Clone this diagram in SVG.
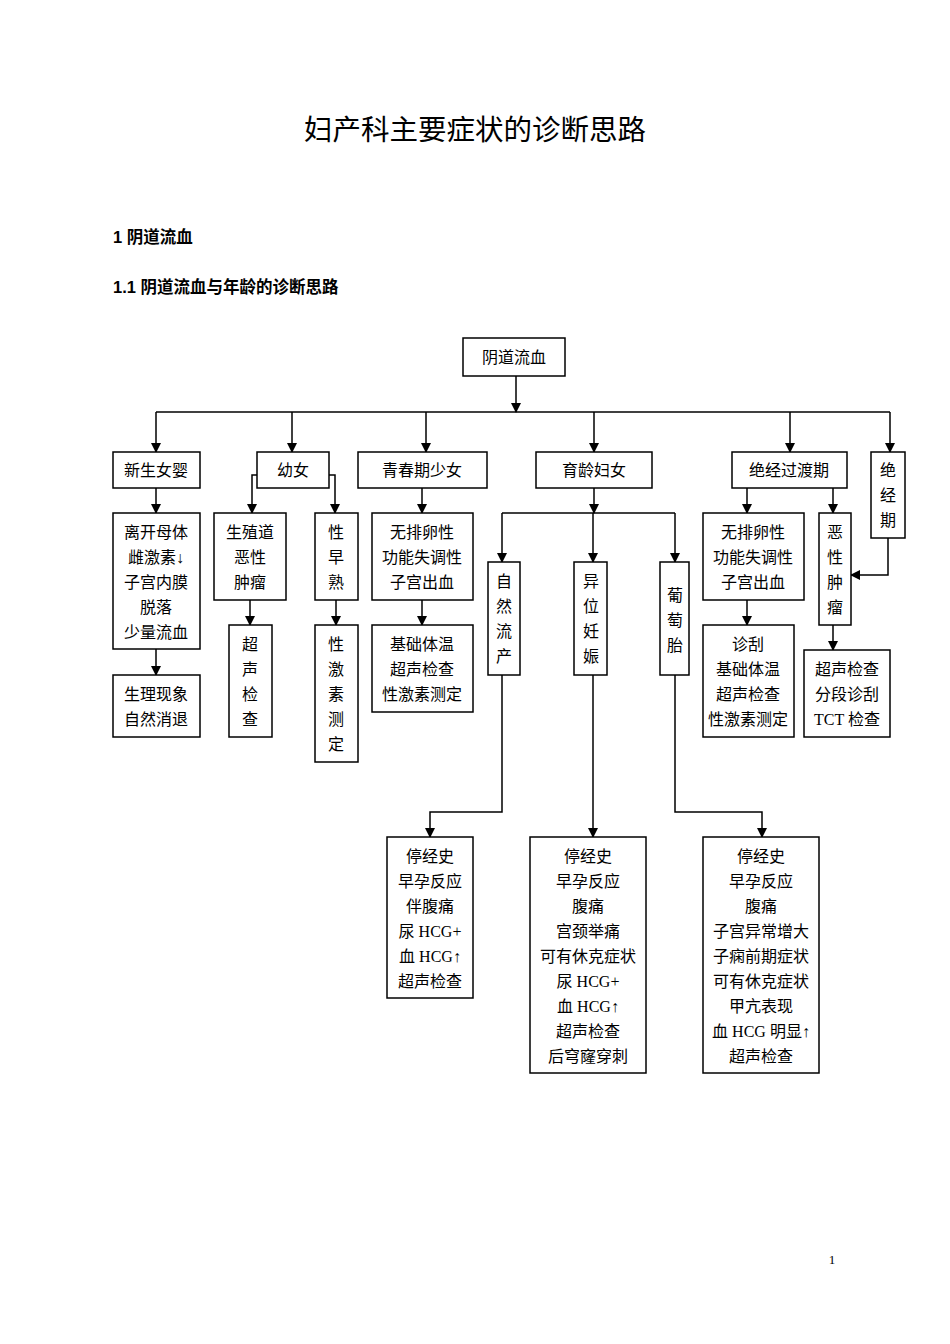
<svg xmlns="http://www.w3.org/2000/svg" width="950" height="1344" viewBox="0 0 950 1344">
<style>
rect{fill:#fff;stroke:#000;stroke-width:1.5}
text{font-family:"Liberation Serif","Noto Sans CJK SC",serif;font-size:16px;text-anchor:middle;fill:#000}
.h{font-family:"Liberation Sans","Noto Sans CJK SC",sans-serif;font-weight:bold;font-size:16.5px;text-anchor:start}
.t{font-family:"Liberation Sans","Noto Sans CJK SC",sans-serif;font-size:28.5px}
#c path{fill:none;stroke:#000;stroke-width:1.5;marker-end:url(#a)}
</style>
<defs><marker id="a" markerWidth="10" markerHeight="10" refX="9" refY="5" orient="auto" markerUnits="userSpaceOnUse"><path d="M0,0L10,5L0,10z" fill="#000"/></marker></defs>
<rect x="0" y="0" width="950" height="1344" style="stroke:none"/>
<text class="t" x="475" y="140">妇产科主要症状的诊断思路</text>
<text class="h" x="113" y="243">1 阴道流血</text>
<text class="h" x="113" y="293">1.1 阴道流血与年龄的诊断思路</text>
<text x="832" y="1264" style="font-size:13px">1</text>
<g id="c">
<path d="M516,376V412"/>
<path d="M156,412H890" style="marker-end:none"/>
<path d="M156,412V452"/><path d="M292,412V452"/><path d="M426,412V452"/><path d="M594,412V452"/><path d="M790,412V452"/><path d="M890,412V452"/>
<path d="M156,488V513"/><path d="M156,649V675"/>
<path d="M257,475H252V513"/><path d="M329,475H335V513"/>
<path d="M250,600V625"/><path d="M336,600V625"/>
<path d="M422,488V513"/><path d="M422,600V625"/>
<path d="M594,488V513"/>
<path d="M502,513H675" style="marker-end:none"/>
<path d="M502,513V562"/><path d="M593,513V562"/><path d="M675,513V562"/>
<path d="M502,675V812H430V837"/><path d="M593,675V837"/><path d="M675,675V812H762V837"/>
<path d="M747,488V513"/><path d="M747,600V625"/>
<path d="M833,488V513"/><path d="M833,625V650"/>
<path d="M888,538V575H851"/>
</g>
<g id="n0"><rect x="463" y="338" width="102" height="38"/><text x="514" y="363">阴道流血</text></g>
<g id="n1"><rect x="113" y="452" width="87" height="36"/><text x="156" y="476">新生女婴</text></g>
<g id="n2"><rect x="257" y="452" width="72" height="36"/><text x="293" y="476">幼女</text></g>
<g id="n3"><rect x="358" y="452" width="129" height="36"/><text x="422" y="476">青春期少女</text></g>
<g id="n4"><rect x="536" y="452" width="116" height="36"/><text x="594" y="476">育龄妇女</text></g>
<g id="n5"><rect x="732" y="452" width="115" height="36"/><text x="789" y="476">绝经过渡期</text></g>
<g id="n6"><rect x="871" y="452" width="34" height="86"/><text x="888" y="476">绝</text><text x="888" y="501">经</text><text x="888" y="526">期</text></g>
<g id="n7"><rect x="113" y="513" width="87" height="136"/><text x="156" y="538">离开母体</text><text x="156" y="563">雌激素↓</text><text x="156" y="588">子宫内膜</text><text x="156" y="613">脱落</text><text x="156" y="638">少量流血</text></g>
<g id="n8"><rect x="113" y="675" width="87" height="62"/><text x="156" y="700">生理现象</text><text x="156" y="725">自然消退</text></g>
<g id="n9"><rect x="214" y="513" width="72" height="87"/><text x="250" y="538">生殖道</text><text x="250" y="563">恶性</text><text x="250" y="588">肿瘤</text></g>
<g id="n10"><rect x="229" y="625" width="43" height="112"/><text x="250" y="650">超</text><text x="250" y="675">声</text><text x="250" y="700">检</text><text x="250" y="725">查</text></g>
<g id="n11"><rect x="315" y="513" width="43" height="87"/><text x="336" y="538">性</text><text x="336" y="563">早</text><text x="336" y="588">熟</text></g>
<g id="n12"><rect x="315" y="625" width="43" height="137"/><text x="336" y="650">性</text><text x="336" y="675">激</text><text x="336" y="700">素</text><text x="336" y="725">测</text><text x="336" y="750">定</text></g>
<g id="n13"><rect x="372" y="513" width="101" height="87"/><text x="422" y="538">无排卵性</text><text x="422" y="563">功能失调性</text><text x="422" y="588">子宫出血</text></g>
<g id="n14"><rect x="372" y="625" width="101" height="87"/><text x="422" y="650">基础体温</text><text x="422" y="675">超声检查</text><text x="422" y="700">性激素测定</text></g>
<g id="n15"><rect x="488" y="562" width="32" height="113"/><text x="504" y="587">自</text><text x="504" y="612">然</text><text x="504" y="637">流</text><text x="504" y="662">产</text></g>
<g id="n16"><rect x="574" y="562" width="33" height="113"/><text x="591" y="587">异</text><text x="591" y="612">位</text><text x="591" y="637">妊</text><text x="591" y="662">娠</text></g>
<g id="n17"><rect x="660" y="562" width="29" height="113"/><text x="675" y="601">葡</text><text x="675" y="626">萄</text><text x="675" y="651">胎</text></g>
<g id="n18"><rect x="703" y="513" width="101" height="87"/><text x="753" y="538">无排卵性</text><text x="753" y="563">功能失调性</text><text x="753" y="588">子宫出血</text></g>
<g id="n19"><rect x="703" y="625" width="91" height="112"/><text x="748" y="650">诊刮</text><text x="748" y="675">基础体温</text><text x="748" y="700">超声检查</text><text x="748" y="725">性激素测定</text></g>
<g id="n20"><rect x="819" y="513" width="32" height="112"/><text x="835" y="538">恶</text><text x="835" y="563">性</text><text x="835" y="588">肿</text><text x="835" y="613">瘤</text></g>
<g id="n21"><rect x="804" y="650" width="86" height="87"/><text x="847" y="675">超声检查</text><text x="847" y="700">分段诊刮</text><text x="847" y="725">TCT 检查</text></g>
<g id="n22"><rect x="387" y="837" width="86" height="161"/><text x="430" y="862">停经史</text><text x="430" y="887">早孕反应</text><text x="430" y="912">伴腹痛</text><text x="430" y="937">尿 HCG+</text><text x="430" y="962">血 HCG↑</text><text x="430" y="987">超声检查</text></g>
<g id="n23"><rect x="530" y="837" width="116" height="236"/><text x="588" y="862">停经史</text><text x="588" y="887">早孕反应</text><text x="588" y="912">腹痛</text><text x="588" y="937">宫颈举痛</text><text x="588" y="962">可有休克症状</text><text x="588" y="987">尿 HCG+</text><text x="588" y="1012">血 HCG↑</text><text x="588" y="1037">超声检查</text><text x="588" y="1062">后穹窿穿刺</text></g>
<g id="n24"><rect x="703" y="837" width="116" height="236"/><text x="761" y="862">停经史</text><text x="761" y="887">早孕反应</text><text x="761" y="912">腹痛</text><text x="761" y="937">子宫异常增大</text><text x="761" y="962">子痫前期症状</text><text x="761" y="987">可有休克症状</text><text x="761" y="1012">甲亢表现</text><text x="761" y="1037">血 HCG 明显↑</text><text x="761" y="1062">超声检查</text></g>
</svg>
